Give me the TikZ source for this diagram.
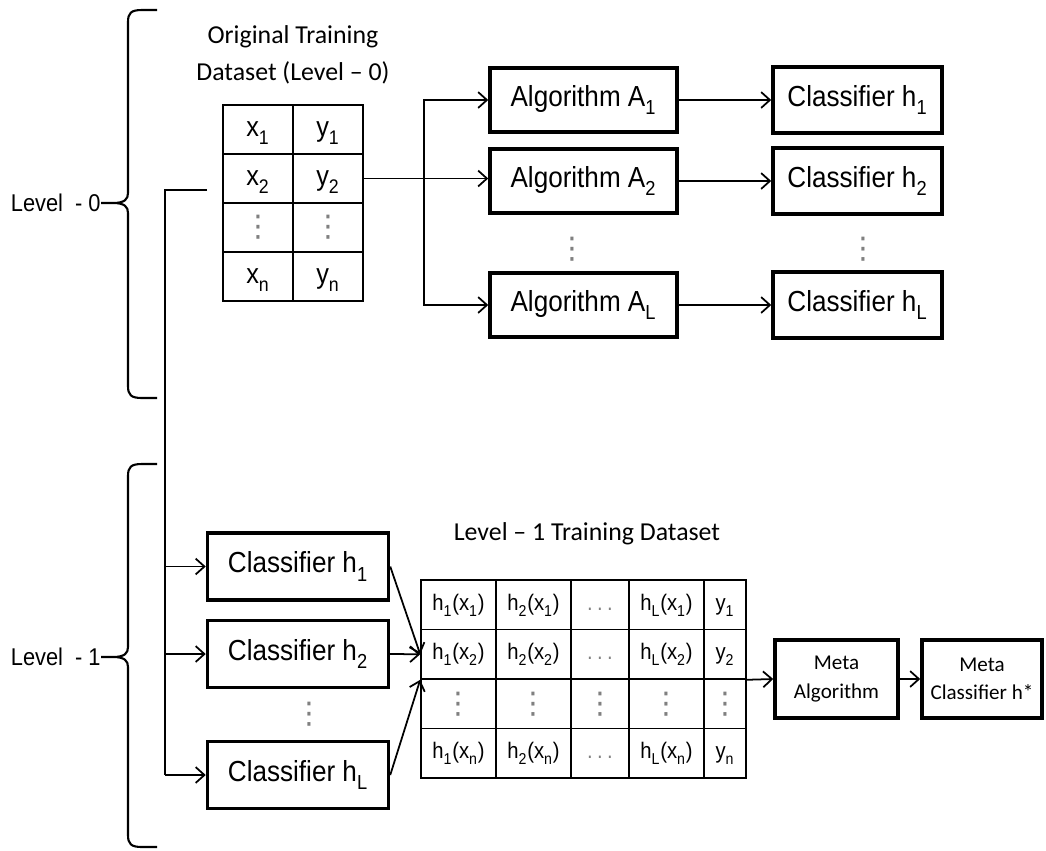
\documentclass[tikz,border=0pt]{standalone}
\usepackage{fontspec}
\setmainfont[FakeStretch=0.9]{Liberation Sans}
\newfontfamily\calibfont{Carlito}
\newfontfamily\symbfont{DejaVu Sans}
\usetikzlibrary{arrows.meta}
\newcommand\idx[1]{\textsubscript{\raisebox{-0.35ex}{#1}}}
\newcommand\vdotsgray{\textcolor{gray}{\symbfont\fontsize{17}{17}\selectfont ⋮}}
\newcommand\hdotsgray{\textcolor{gray}{.\kern2.5pt.\kern2.5pt.}}
\newcommand\LevelBrace[5]{%
    \draw[line width=1.2pt] (157,#1) -- (142,#1) .. controls (131,#1) and (128,#1+3) .. (128,#1+12)
        -- (128,#2-10) .. controls (128,#2-4) and (125,#2) .. (113,#2) -- (101,#2) -- (113,#2)
        .. controls (125,#2) and (128,#2+4) .. (128,#2+10) -- (128,#3-12)
        .. controls (128,#3-3) and (131,#3) .. (142,#3) -- (157,#3);
    \node[anchor=east, inner sep=0pt, font=\fontsize{13.8}{16}\selectfont] (#4) at (101,#2) {#5};
}
\tikzset{
    box/.style={draw, line width=2pt, inner sep=0pt, font=\fontsize{16.5}{20}\selectfont},
    metabox/.style={box, align=center, font=\calibfont\fontsize{12}{16}\selectfont},
    origcell/.style={draw, line width=1.3pt, minimum width=1.4cm, minimum height=0.98cm, inner sep=0pt, font=\fontsize{16}{18}\selectfont},
    lvcell/.style={draw, line width=0.9pt, minimum height=0.99cm, inner sep=0pt, font=\fontsize{12.8}{15}\selectfont},
    rowtext/.style={text height=9pt, text depth=3pt},
    title/.style={align=center, font=\calibfont\fontsize{14.7}{21}\selectfont},
    link/.style={line width=1pt},
}

\begin{document}
\begin{tikzpicture}[x=0.02cm, y=-0.02cm, >={Straight Barb[length=5pt,width=9pt]}]
    \useasboundingbox (0,0) rectangle (1046,850);
    \LevelBrace{10}{203}{398}{lvl0}{Level\ \ - 0}
    \LevelBrace{464}{657}{847}{lvl1}{Level\ \ - 1}

    \node[title] (origtitle) at (293,55) {Original Training\\Dataset (Level – 0)};
    \foreach \r/\i/\y in {1/1/129.5, 2/2/178.5, 4/n/276.5} {
        \node[origcell, text height=11pt, text depth=3pt] (ox\r) at (258,\y) {x\idx{\i}};
        \node[origcell, text height=11pt, text depth=3pt] (oy\r) at (328,\y) {y\idx{\i}};
    }
    \node[origcell] (ox3) at (258,227.5) {\vdotsgray};
    \node[origcell] (oy3) at (328,227.5) {\vdotsgray};

    \foreach \n/\y in {1/100, 2/181, L/305} {
        \node[box, minimum width=3.74cm, minimum height=1.28cm] (algo\n) at (583.5,\y) {Algorithm A\idx{\n}};
        \node[box, minimum width=3.38cm, minimum height=1.32cm] (clf\n) at (857.5,\y) {Classifier h\idx{\n}};
        \draw[link,->] (algo\n.east) -- (clf\n.west);
    }
    \node (algodots) at (572,249) {\vdotsgray};
    \node (clfdots) at (863,249) {\vdotsgray};

    \coordinate (splitx) at (424,0);
    \draw[link,->] (oy2.east) -- (oy2.east -| algo2.west);
    \draw[link,->] (oy2.east -| splitx) |- (algo1.west);
    \draw[link,->] (oy2.east -| splitx) |- (algoL.west);

    \node[title, anchor=base] (lvtitle) at (587,540) {Level – 1 Training Dataset};
    \foreach \n/\y in {1/566.5, 2/654, L/775}
        \node[box, minimum width=3.62cm, minimum height=1.34cm] (lowclf\n) at (298,\y) {Classifier h\idx{\n}};
    \node (lowdots) at (309,714) {\vdotsgray};

    \coordinate (feed) at (207,190);
    \coordinate (trunk) at (165,190);
    \draw[link] (feed) -- (trunk) -- (trunk |- lowclfL.west);
    \foreach \n in {1,2,L}
        \draw[link,->] (trunk |- lowclf\n.west) -- (lowclf\n.west);

    \foreach \r/\i/\y in {1/1/604.75, 2/2/654.25, 4/n/753.25} {
        \node[lvcell, rowtext, minimum width=1.5cm] (m\r-1) at (458.5,\y) {h\idx{1}(x\idx{\i})};
        \node[lvcell, rowtext, minimum width=1.5cm] (m\r-2) at (533.5,\y) {h\idx{2}(x\idx{\i})};
        \node[lvcell, rowtext, minimum width=1.16cm] (m\r-3) at (600,\y) {\hdotsgray};
        \node[lvcell, rowtext, minimum width=1.5cm] (m\r-4) at (666.5,\y) {h\idx{L}(x\idx{\i})};
        \node[lvcell, rowtext, minimum width=0.84cm] (m\r-5) at (725,\y) {y\idx{\i}};
    }
    \foreach \c/\cx/\cw in {1/458.5/1.5, 2/533.5/1.5, 3/600/1.16, 4/666.5/1.5, 5/725/0.84}
        \node[lvcell, minimum width=\cw cm] (m3-\c) at (\cx,703.75) {\vdotsgray};

    \draw[link,->] (lowclf1.east) -- (m2-1.west);
    \draw[link,->] (lowclf2.east) -- (m2-1.west);
    \draw[link,->] (lowclfL.east) -- (m2-1.south west);

    \node[metabox, minimum width=2.46cm, minimum height=1.56cm] (metaalg) at (836.5,679) {Meta\\Algorithm};
    \node[metabox, minimum width=2.4cm, minimum height=1.56cm] (metaclf) at (982,679) {Meta\\Classifier h*};
    \draw[link,->] (m2-5.south east) -- (metaalg.west);
    \draw[link,->] (metaalg) -- (metaclf);
\end{tikzpicture}
\end{document}
